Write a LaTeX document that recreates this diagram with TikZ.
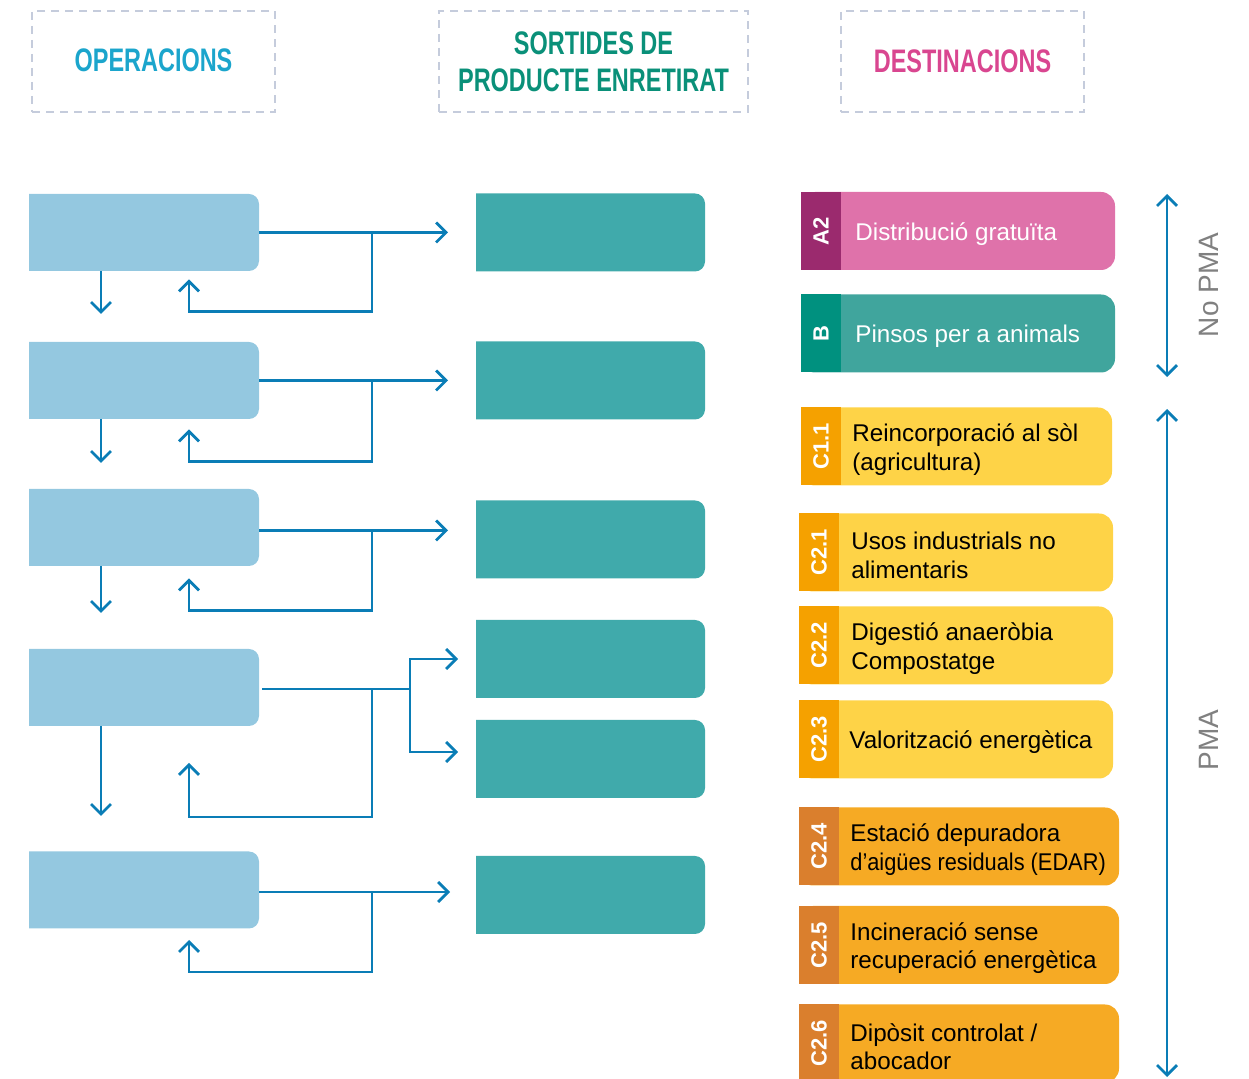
\documentclass[tikz,border=0pt]{standalone}
\usepackage{fontspec}
\setmainfont{Liberation Sans}
\newfontfamily\headfont{Liberation Sans}[FakeStretch=0.72]
\usepackage{tikz}
\usetikzlibrary{arrows.meta,positioning}

\definecolor{opblue}{HTML}{94C8E0}
\definecolor{outteal}{HTML}{40AAAB}
\definecolor{flowblue}{HTML}{0A7DB6}
\definecolor{dashgray}{HTML}{C5CCDC}
\definecolor{hdblue}{HTML}{1BA5CC}
\definecolor{hdteal}{HTML}{0A9079}
\definecolor{hdpink}{HTML}{D94690}
\definecolor{pinktag}{HTML}{9B2A6E}
\definecolor{pinkbox}{HTML}{DF72AA}
\definecolor{tealtag}{HTML}{00917F}
\definecolor{tealbox}{HTML}{40A59D}
\definecolor{yeltag}{HTML}{F5A100}
\definecolor{yelbox}{HTML}{FED347}
\definecolor{orgtag}{HTML}{DA7F2D}
\definecolor{orgbox}{HTML}{F6AA24}
\definecolor{pmagray}{HTML}{808080}

\begin{document}
\begin{tikzpicture}[x=0.5pt,y=-0.5pt,>={Straight Barb[length=5pt,width=10pt]},
	flow/.style={draw=flowblue,line width=1.4pt},
	headbox/.style={draw=dashgray,line width=1pt,dash pattern=on 4pt off 3pt,inner sep=0pt,align=center,font=\headfont\bfseries\fontsize{16.3}{18.5}\selectfont},
	opbox/.style={minimum width=115pt,minimum height=38.5pt,inner sep=0pt,outer sep=0pt},
	outbox/.style={minimum width=114.5pt,minimum height=39pt,inner sep=0pt,outer sep=0pt},
	dest/.style={rounded corners=7pt,minimum height=39pt,inner sep=0pt,outer sep=0pt},
	tagbox/.style={anchor=west,minimum width=20pt,minimum height=39pt,inner sep=0pt,outer sep=0pt,text=white,font=\bfseries\fontsize{11}{11}\selectfont},
	desttext/.style={inner sep=0pt,yshift=-1.5pt,align=left,font=\fontsize{12.1}{14.2}\selectfont}]
	\useasboundingbox (0,0) rectangle (1249,1079);

	% headers
	\node[headbox,minimum width=121.5pt,minimum height=50.5pt,text=hdblue]	(hdop)		at (153.5,61.5)	{\raisebox{1.5pt}{OPERACIONS}};
	\node[headbox,minimum width=154.5pt,minimum height=50.5pt,text=hdteal]	(hdout)		at (593.5,61.5)	{SORTIDES DE\\PRODUCTE ENRETIRAT};
	\node[headbox,minimum width=121.5pt,minimum height=50.5pt,text=hdpink]	(hddest)	at (962.5,61.5)	{\raisebox{0.5pt}{DESTINACIONS}};

	% operacions
	\node[opbox]	(op1)	at (144,232.5)	{};
	\node[opbox]	(op2)	at (144,380.5)	{};
	\node[opbox]	(op3)	at (144,527.5)	{};
	\node[opbox]	(op4)	at (144,687.5)	{};
	\node[opbox]	(op5)	at (144,890)	{};

	% sortides
	\node[outbox]	(out1)	at (590.5,232.5)	{};
	\node[outbox]	(out2)	at (590.5,380.5)	{};
	\node[outbox]	(out3)	at (590.5,539.5)	{};
	\node[outbox]	(out4a)	at (590.5,659)		{};
	\node[outbox]	(out4b)	at (590.5,759)		{};
	\node[outbox]	(out5)	at (590.5,895)		{};

	% only the right corners are round
	\foreach \n/\c in {op1/opblue,op2/opblue,op3/opblue,op4/opblue,op5/opblue,out1/outteal,out2/outteal,out3/outteal,out4a/outteal,out4b/outteal,out5/outteal}{
		\begin{scope}
			\clip (\n.south west) rectangle (\n.north east);
			\fill[\c,rounded corners=5pt] ([xshift=-10pt]\n.south west) rectangle (\n.north east);
		\end{scope}
	}

	% fluxos
	\draw[flow,->,shorten >=14pt]	(op1.east) -- (op1.east -| out1.west);
	\draw[flow,->,shorten >=14pt]	(op2.east) -- (op2.east -| out2.west);
	\draw[flow,->,shorten >=14pt]	([yshift=-1.5pt]op3.east) -- ([yshift=-1.5pt]op3.east -| out3.west);
	\draw[flow]	([xshift=1.5pt,yshift=-0.75pt]op4.east) -- ++(148,0) coordinate (br4);
	\draw[flow,->,shorten >=9pt]	(br4) |- (out4a.west);
	\draw[flow,->,shorten >=9pt]	(br4) |- ([yshift=3.5pt]out4b.west);
	\draw[flow,->,shorten >=13pt]	([yshift=-1pt]op5.east) -- ([yshift=-1pt]op5.east -| out5.west);

	% retorns
	\draw[flow,->]	(op1.east) ++(113,0) -- ++(0,79) -- ++(-183,0) -- ++(0,-32);
	\draw[flow,->]	(op2.east) ++(113,0) -- ++(0,81) -- ++(-183,0) -- ++(0,-32);
	\draw[flow,->]	(op3.east) ++(113,3) -- ++(0,80) -- ++(-183,0) -- ++(0,-32);
	\draw[flow,->]	(op4.east) ++(113,1.5) -- ++(0,128) -- ++(-183,0) -- ++(0,-54);
	\draw[flow,->]	(op5.east) ++(113,2) -- ++(0,80) -- ++(-183,0) -- ++(0,-32);

	% cap avall
	\draw[flow,->]	([xshift=36pt]op1.south west) -- ++(0,43);
	\draw[flow,->]	([xshift=36pt]op2.south west) -- ++(0,44);
	\draw[flow,->]	([xshift=36pt]op3.south west) -- ++(0,47);
	\draw[flow,->]	([xshift=36pt]op4.south west) -- ++(0,90);

	% destinacions
	\node[dest,fill=pinkbox,minimum width=157pt]	(a2)	at (958,231)	{};
	\node[tagbox,fill=pinktag]	(a2tag)	at (a2.west)	{\rotatebox{90}{A2}};
	\node[desttext,text=white,right=7pt of a2tag]	(a2txt)	{Distribució gratuïta};

	\node[dest,fill=tealbox,minimum width=157pt]	(b)	at (958,333.5)	{};
	\node[tagbox,fill=tealtag]	(btag)	at (b.west)	{\rotatebox{90}{B}};
	\node[desttext,text=white,right=7pt of btag]	(btxt)	{Pinsos per a animals};

	\node[dest,fill=yelbox,minimum width=155.5pt]	(c11)	at (956.5,446.5)	{};
	\node[tagbox,fill=yeltag]	(c11tag)	at (c11.west)	{\rotatebox{90}{C1.1}};
	\node[desttext,right=5.5pt of c11tag]	(c11txt)	{Reincorporació al sòl\\(agricultura)};

	\node[dest,fill=yelbox,minimum width=157pt]	(c21)	at (956,552.5)	{};
	\node[tagbox,fill=yeltag]	(c21tag)	at (c21.west)	{\rotatebox{90}{C2.1}};
	\node[desttext,right=6pt of c21tag]	(c21txt)	{Usos industrials no\\alimentaris};

	\node[dest,fill=yelbox,minimum width=157pt]	(c22)	at (956,645.5)	{};
	\node[tagbox,fill=yeltag]	(c22tag)	at (c22.west)	{\rotatebox{90}{C2.2}};
	\node[desttext,right=6pt of c22tag]	(c22txt)	{Digestió anaeròbia\\Compostatge};

	\node[dest,fill=yelbox,minimum width=157pt]	(c23)	at (956,739.5)	{};
	\node[tagbox,fill=yeltag]	(c23tag)	at (c23.west)	{\rotatebox{90}{C2.3}};
	\node[desttext,right=5pt of c23tag]	(c23txt)	{Valorització energètica};

	\node[dest,fill=orgbox,minimum width=160pt]	(c24)	at (959,846.5)	{};
	\node[tagbox,fill=orgtag]	(c24tag)	at (c24.west)	{\rotatebox{90}{C2.4}};
	\node[desttext,right=5.5pt of c24tag]	(c24txt)	{Estació depuradora\\\scalebox{0.9}[1]{d’aigües residuals (EDAR)}};

	\node[dest,fill=orgbox,minimum width=160pt]	(c25)	at (959,945)	{};
	\node[tagbox,fill=orgtag]	(c25tag)	at (c25.west)	{\rotatebox{90}{C2.5}};
	\node[desttext,right=5.5pt of c25tag]	(c25txt)	{Incineració sense\\recuperació energètica};

	\node[dest,fill=orgbox,minimum width=160pt]	(c26)	at (959,1043.5)	{};
	\node[tagbox,fill=orgtag]	(c26tag)	at (c26.west)	{\rotatebox{90}{C2.6}};
	\node[desttext,right=5.5pt of c26tag]	(c26txt)	{Dipòsit controlat /\\abocador};

	% PMA / No PMA
	\coordinate (noptop)	at (1167,194);
	\coordinate (nopbot)	at (1167,377);
	\coordinate (pmatop)	at (1167,409);
	\coordinate (pmabot)	at (1167,1077);
	\draw[flow,<->]	(noptop) -- (nopbot);
	\draw[flow,<->]	(pmatop) -- (pmabot);
	\node[rotate=90,text=pmagray,font=\fontsize{14}{14}\selectfont]	(nopma)	at (1209,285)	{No PMA};
	\node[rotate=90,text=pmagray,font=\fontsize{14}{14}\selectfont]	(pma)	at (1209,740)	{PMA};
\end{tikzpicture}
\end{document}
